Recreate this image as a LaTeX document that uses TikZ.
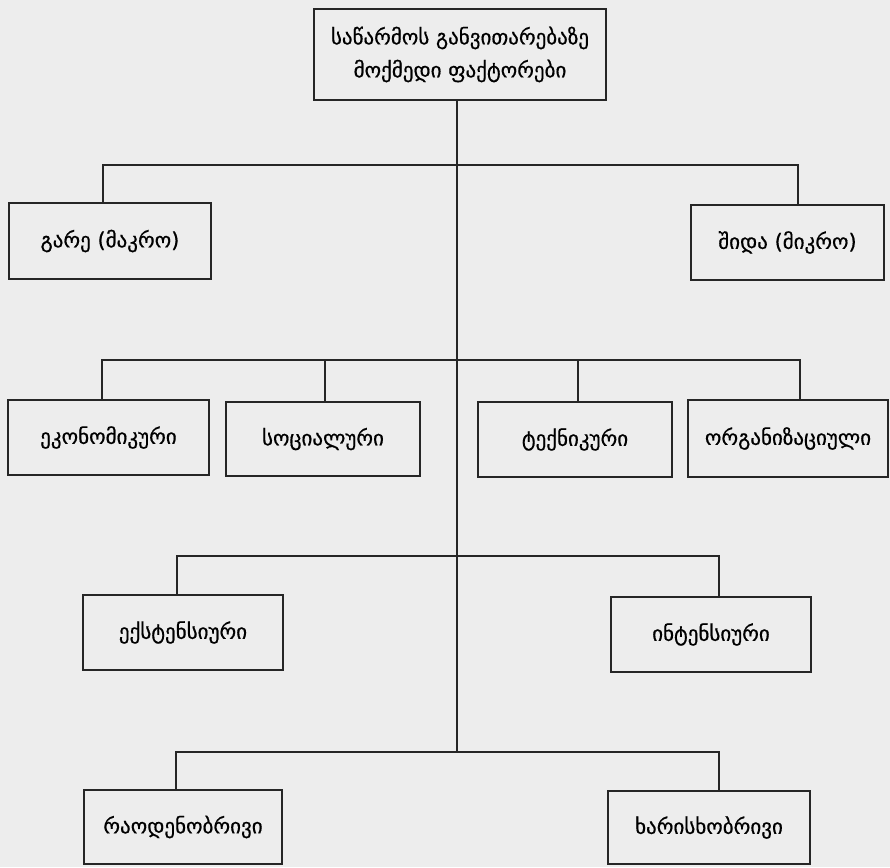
\documentclass[tikz,border=0pt]{standalone}
\usepackage{fontspec}
\newfontfamily\geo[FakeBold=0.6]{DejaVu Sans}
\begin{document}
\begin{tikzpicture}[x=1pt,y=-1pt,
  box/.style={draw=black!85, line width=1.6pt, inner sep=0pt, align=center,
    font=\geo\fontsize{21}{33}\selectfont},
  conn/.style={draw=black!85, line width=1.5pt}]
\fill[black!7] (0,0) rectangle (890,867);
\useasboundingbox (0,0) rectangle (890,867);
% boxes
\node[box, minimum width=292pt, minimum height=91pt] (top) at (460,54.5) {საწარმოს განვითარებაზე\\მოქმედი ფაქტორები};
\node[box, minimum width=202pt, minimum height=76pt] (gare) at (110,241) {გარე (მაკრო)};
\node[box, minimum width=193pt, minimum height=75pt] (shida) at (787.5,242.5) {შიდა (მიკრო)};
\node[box, minimum width=201pt, minimum height=75pt] (ekon) at (108.5,437.5) {ეკონომიკური};
\node[box, minimum width=194pt, minimum height=74pt] (soc) at (323,439) {სოციალური};
\node[box, minimum width=194pt, minimum height=75pt] (tek) at (575,439.5) {ტექნიკური};
\node[box, minimum width=200pt, minimum height=77pt] (org) at (788,438.5) {ორგანიზაციული};
\node[box, minimum width=200pt, minimum height=75pt] (ekst) at (183,632.5) {ექსტენსიური};
\node[box, minimum width=200pt, minimum height=75pt] (int) at (711,634.5) {ინტენსიური};
\node[box, minimum width=198pt, minimum height=74pt] (raod) at (183,827) {რაოდენობრივი};
\node[box, minimum width=202pt, minimum height=73pt] (xar) at (709,827.5) {ხარისხობრივი};
% junction coordinates
\coordinate (t1) at (457,165);
\coordinate (t4) at (457,752);
\coordinate (a1) at (103,165); \coordinate (a2) at (798,165);
\coordinate (b1) at (102,360); \coordinate (b2) at (325,360);
\coordinate (b3) at (578,360); \coordinate (b4) at (800,360);
\coordinate (c1) at (177,556); \coordinate (c2) at (719,556);
\coordinate (d1) at (176,752); \coordinate (d2) at (719,752);
% trunk
\draw[conn] (top.south -| t1) -- (t4);
% level 1
\draw[conn] (gare.north -| a1) -- (a1) -- (a2) -- (shida.north -| a2);
% level 2
\draw[conn] (ekon.north -| b1) -- (b1) -- (b4) -- (org.north -| b4);
\draw[conn] (soc.north -| b2) -- (b2);
\draw[conn] (tek.north -| b3) -- (b3);
% level 3
\draw[conn] (ekst.north -| c1) -- (c1) -- (c2) -- (int.north -| c2);
% level 4
\draw[conn] (raod.north -| d1) -- (d1) -- (d2) -- (xar.north -| d2);
\end{tikzpicture}
\end{document}
